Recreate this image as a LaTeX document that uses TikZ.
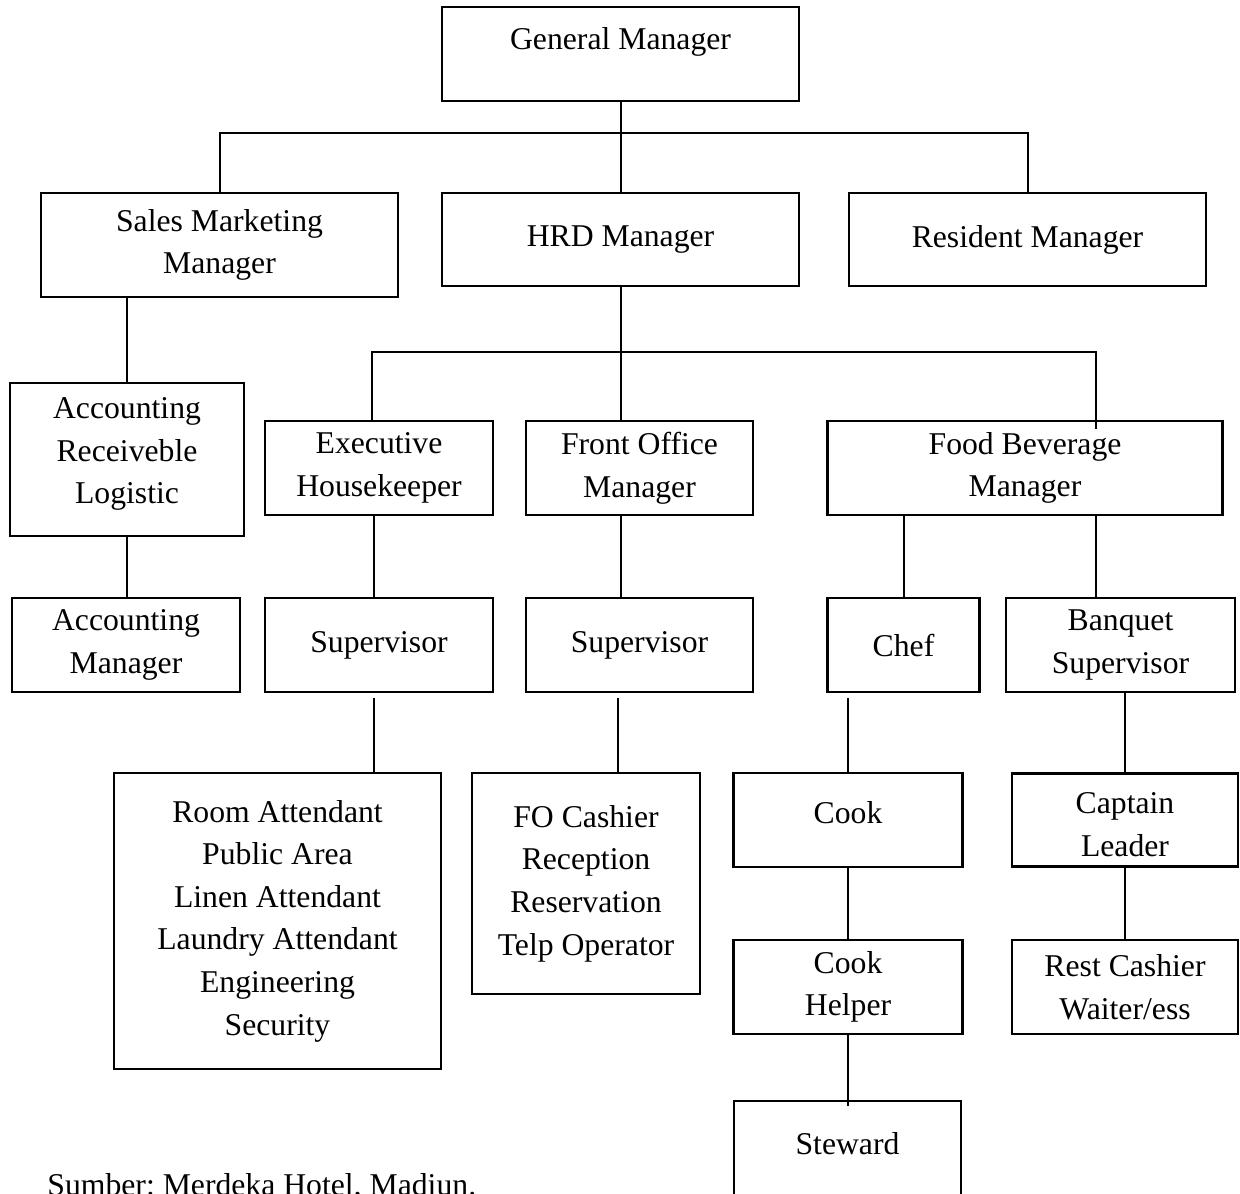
\documentclass[tikz,border=0pt]{standalone}
\usepackage{fontspec}
\setmainfont{Liberation Serif}

\begin{document}
\begin{tikzpicture}[x=0.5pt,y=-0.5pt,
        every node/.style={font=\fontsize{15.85}{21.3}\selectfont},
        unit/.style={draw,line width=1.35pt,align=center,inner sep=0pt},
        link/.style={line width=1pt}]
        \useasboundingbox (0,0) rectangle (1240,1193);

        % top level
        \node[unit,minimum width=178.5pt,minimum height=47pt,text depth=15.8pt] (gm) at (620.5,54) {General Manager};
        \node[unit,minimum width=178.5pt,minimum height=52pt] (sales) at (219.5,245) {Sales Marketing\\Manager};
        \node[unit,minimum width=178.5pt,minimum height=46.5pt] (hrd) at (620.5,239.5) {HRD Manager};
        \node[unit,minimum width=178.5pt,minimum height=46.5pt] (res) at (1027.5,239.5) {Resident Manager};

        % departments
        \node[unit,minimum width=117pt,minimum height=76.5pt,text depth=9pt] (acr) at (127,459.5) {Accounting\\Receiveble\\Logistic};
        \node[unit,minimum width=114pt,minimum height=47pt] (eh) at (379,468) {Executive\\Housekeeper};
        \node[unit,minimum width=113.5pt,minimum height=47pt] (fo) at (639.5,468) {Front Office\\Manager};
        \node[unit,minimum width=197.5pt,minimum height=47pt] (fb) at (1025,468) {Food Beverage\\Manager};

        \node[unit,minimum width=114pt,minimum height=47pt] (accm) at (126,645) {Accounting\\Manager};
        \node[unit,minimum width=114pt,minimum height=47pt] (sup1) at (379,645) {Supervisor};
        \node[unit,minimum width=113.5pt,minimum height=47pt] (sup2) at (639.5,645) {Supervisor};
        \node[unit,minimum width=76pt,minimum height=47pt] (chef) at (903.5,645) {Chef};
        \node[unit,minimum width=114.5pt,minimum height=47pt] (banq) at (1120.5,645) {Banquet\\Supervisor};

        % staff
        \node[unit,minimum width=163.5pt,minimum height=148pt] (room) at (277.5,921) {Room Attendant\\Public Area\\Linen Attendant\\Laundry Attendant\\Engineering\\Security};
        \node[unit,minimum width=114pt,minimum height=110.5pt] (focash) at (586,883.5) {FO Cashier\\Reception\\Reservation\\Telp Operator};
        \node[unit,minimum width=114.5pt,minimum height=47pt,text depth=7.8pt] (cook) at (848,820) {Cook};
        \node[unit,minimum width=113pt,minimum height=46.5pt,text height=36.3pt] (capt) at (1125,820) {Captain\\Leader};
        \node[unit,minimum width=114.5pt,minimum height=47pt] (cookh) at (848,987) {Cook\\Helper};
        \node[unit,minimum width=113pt,minimum height=47pt] (rest) at (1125,987) {Rest Cashier\\Waiter/ess};
        \node[unit,minimum width=113.5pt,minimum height=48pt,text depth=5.5pt] (stew) at (847.5,1149) {Steward};

        \node[anchor=base west,inner sep=0pt] (src) at (47,1195) {Sumber:\ Merdeka Hotel, Madiun.};

        % lines
        \coordinate (topbus) at (620.5,133);
        \coordinate (midbus) at (620.5,352);
        \draw[link] (sales.north) |- (topbus) -| (res.north);
        \draw[link] (gm.south) -- (hrd.north);
        \draw[link] (hrd.south) -- (hrd.south |- fo.north);
        \draw[link] ([xshift=-3.5pt]eh.north) |- (midbus) -| ([xshift=35.5pt,yshift=-4.5pt]fb.north);

        \draw[link] (acr.north) -- (acr.north |- sales.south);
        \draw[link] (acr.south) -- (acr.south |- accm.north);
        \draw[link] ([xshift=-2.5pt]eh.south) -- ([xshift=-2.5pt]sup1.north);
        \draw[link] (fo.south -| hrd.south) -- (sup2.north -| hrd.south);
        \draw[link] (chef.north) -- (chef.north |- fb.south);
        \draw[link] ([xshift=35.5pt]fb.south) coordinate (f1) -- (f1 |- banq.north);

        \draw[link] ([xshift=-2.5pt,yshift=-2.5pt]sup1.south) coordinate (s1) -- (s1 |- room.north);
        \draw[link] ([xshift=-10.75pt,yshift=-2.5pt]sup2.south) coordinate (s2) -- (s2 |- focash.north);
        \draw[link] (cook.north) -- ([yshift=-2.5pt]cook.north |- chef.south);
        \draw[link] (banq.south -| capt.north) coordinate (b1) -- (b1 |- capt.north);
        \draw[link] (capt.south) -- (rest.north);

        \foreach \a/\b in {cook/cookh}
            \draw[link] (\a.south) -- (\b.north);
        \draw[link] (cookh.south) -- ([yshift=-3pt]stew.north -| cookh.south);
\end{tikzpicture}
\end{document}
